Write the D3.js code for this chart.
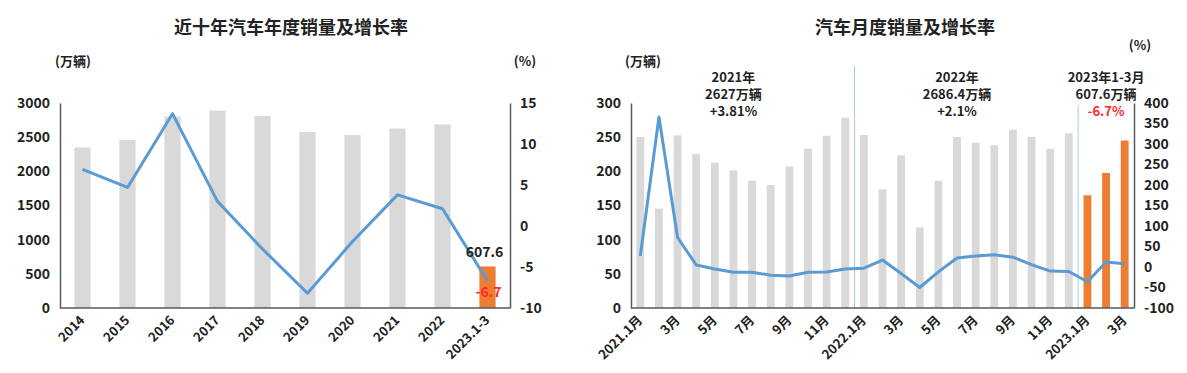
<!DOCTYPE html>
<html>
<head>
<meta charset="utf-8">
<script src="https://cdn.jsdelivr.net/npm/d3@7"></script>
<style>
	body{margin:0;background:#fff;}
	svg text{font-family:"Noto Sans CJK SC","Noto Sans",sans-serif;font-weight:bold;fill:#222;}
</style>
</head>
<body>
<div id="idCharts"></div>
<script>
// annual chart data
var aYears=["2014","2015","2016","2017","2018","2019","2020","2021","2022","2023.1-3"];
var aYearSales=[2349,2460,2803,2888,2808,2577,2531,2627,2686.4,607.6];
var aYearGrowth=[6.9,4.7,13.7,3.0,-2.8,-8.2,-1.9,3.8,2.1,-6.7];
var aYearLeftTicks=[0,500,1000,1500,2000,2500,3000];
var aYearRightTicks=[-10,-5,0,5,10,15];

// monthly chart data
var aMonths=["2021.1月","2月","3月","4月","5月","6月","7月","8月","9月","10月","11月","12月",
	"2022.1月","2月","3月","4月","5月","6月","7月","8月","9月","10月","11月","12月",
	"2023.1月","2月","3月"];
var aMonthSales=[250.3,145.5,252.6,225.2,212.8,201.5,186.4,179.9,207.1,233.2,252.2,278.6,
	253.1,173.7,223.4,118.1,186.2,250.2,242.0,238.3,261.0,250.5,232.9,255.6,
	164.9,197.6,245.1];
var aMonthGrowth=[27,366,72,5,-5,-13,-13,-20,-22,-13,-12,-5,
	-3,17,-16,-50,-12,22,27,30,24,6,-10,-11,
	-36,12,8];
var aMonthLeftTicks=[0,50,100,150,200,250,300];
var aMonthRightTicks=[-100,-50,0,50,100,150,200,250,300,350,400];
var aNotes=[
	{iAt:5,lines:["2021年","2627万辆","+3.81%"]},
	{iAt:17,lines:["2022年","2686.4万辆","+2.1%"]},
	{iAt:25,lines:["2023年1-3月","607.6万辆","-6.7%"]}
];

var sGray="#d9d9d9", sOrange="#ed7d31", sBlue="#5b9bd5", sAxis="#595959", sRed="#ff2a2a";

var myCanvas=d3.select("#idCharts").append("svg")
	.attr("width",1187)
	.attr("height",373);

function fDrawChart(oCfg)
{
	var myG=myCanvas.append("g");
	var iTop=103, iBottom=308;

	var xBand=d3.scaleBand()
		.domain(d3.range(oCfg.aCats.length))
		.range([oCfg.iLeft,oCfg.iRight])
		.paddingInner(oCfg.fPad)
		.paddingOuter(oCfg.fPad/2);
	var yLeft=d3.scaleLinear().domain(oCfg.aLeftDom).range([iBottom,iTop]);
	var yRight=d3.scaleLinear().domain(oCfg.aRightDom).range([iBottom,iTop]);

	myG.append("text")
		.attr("x",oCfg.iTitleX).attr("y",34)
		.attr("text-anchor","middle")
		.style("font-size","18px")
		.text(oCfg.sTitle);

	// separators
	(oCfg.aSeps||[]).forEach(function(oSep){
		var iX=xBand(oSep.i)-xBand.step()*xBand.paddingInner()/2;
		myG.append("line")
			.attr("x1",iX).attr("x2",iX)
			.attr("y1",oSep.y).attr("y2",iBottom)
			.attr("stroke","#a9c8e8").attr("stroke-width",1);
	});

	myG.selectAll(".bar")
		.data(oCfg.aSales)
		.enter().append("rect")
			.attr("class","bar")
			.attr("x",function(d,i){return xBand(i);})
			.attr("y",function(d){return yLeft(d);})
			.attr("width",xBand.bandwidth())
			.attr("height",function(d){return iBottom-yLeft(d);})
			.attr("fill",function(d,i){return i>=oCfg.iOrangeFrom ? sOrange : sGray;});

	var fLine=d3.line()
		.x(function(d,i){return xBand(i)+xBand.bandwidth()/2;})
		.y(function(d){return yRight(d);});

	myG.append("path")
		.datum(oCfg.aGrowth)
		.attr("d",fLine)
		.attr("fill","none")
		.attr("stroke",sBlue)
		.attr("stroke-width",3)
		.attr("stroke-linejoin","round");

	// axes
	var fPlain=function(d){return String(d);};
	var axL=d3.axisLeft(yLeft).tickValues(oCfg.aLeftTicks).tickFormat(fPlain).tickSize(0).tickPadding(10);
	var axR=d3.axisRight(yRight).tickValues(oCfg.aRightTicks).tickFormat(fPlain).tickSize(0).tickPadding(10);
	var gL=myG.append("g").attr("transform","translate("+oCfg.iLeft+",0)").call(axL);
	var gR=myG.append("g").attr("transform","translate("+oCfg.iRight+",0)").call(axR);
	[gL,gR].forEach(function(g){
		g.select(".domain").attr("stroke",sAxis).attr("stroke-width",1.5);
		g.selectAll("text").style("font-size","14px").attr("fill","#222");
	});
	myG.append("line")
		.attr("x1",oCfg.iLeft).attr("x2",oCfg.iRight)
		.attr("y1",iBottom).attr("y2",iBottom)
		.attr("stroke",sAxis).attr("stroke-width",1.5);

	var aLabels=oCfg.aCats
		.map(function(s,i){return {s:s,i:i};})
		.filter(function(o){return oCfg.fShow(o.i);});

	myG.selectAll(".xlab")
		.data(aLabels)
		.enter().append("text")
			.attr("class","xlab")
			.attr("text-anchor","end")
			.attr("transform",function(o){
				return "translate("+(xBand(o.i)+xBand.bandwidth()/2+3)+","+(iBottom+13)+") rotate(-45)";})
			.style("font-size","13px")
			.text(function(o){return o.s;});

	myG.append("text")
		.attr("x",oCfg.iUnitX).attr("y",66)
		.attr("text-anchor","middle")
		.style("font-size","13px")
		.text("(万辆)");
	myG.append("text")
		.attr("x",oCfg.iPctX).attr("y",oCfg.iPctY)
		.attr("text-anchor","middle")
		.style("font-size","13px")
		.text("(%)");

	return {x:xBand,yL:yLeft,yR:yRight,g:myG};
}

var oYear=fDrawChart({
	sTitle:"近十年汽车年度销量及增长率",iTitleX:291,
	aCats:aYears,aSales:aYearSales,aGrowth:aYearGrowth,
	iLeft:60,iRight:510,fPad:0.64,
	aLeftDom:[0,3000],aRightDom:[-10,15],
	aLeftTicks:aYearLeftTicks,aRightTicks:aYearRightTicks,
	iOrangeFrom:9,
	fShow:function(i){return true;},
	iUnitX:73,iPctX:525,iPctY:66
});

var iLast=aYears.length-1;
oYear.g.append("text")
	.attr("x",oYear.x(iLast)+oYear.x.bandwidth()/2-3)
	.attr("y",oYear.yL(aYearSales[iLast])-9)
	.attr("text-anchor","middle")
	.style("font-size","14px")
	.text(aYearSales[iLast]);
oYear.g.append("text")
	.attr("x",oYear.x(iLast)+oYear.x.bandwidth()/2+1)
	.attr("y",oYear.yR(aYearGrowth[iLast])+16)
	.attr("text-anchor","middle")
	.style("font-size","14px")
	.style("fill",sRed)
	.text(aYearGrowth[iLast]);

var oMonth=fDrawChart({
	sTitle:"汽车月度销量及增长率",iTitleX:905,
	aCats:aMonths,aSales:aMonthSales,aGrowth:aMonthGrowth,
	iLeft:631,iRight:1134,fPad:0.58,
	aLeftDom:[0,300],aRightDom:[-100,400],
	aLeftTicks:aMonthLeftTicks,aRightTicks:aMonthRightTicks,
	iOrangeFrom:24,
	aSeps:[{i:12,y:66},{i:24,y:105}],
	fShow:function(i){return i%2==0;},
	iUnitX:643,iPctX:1140,iPctY:50
});

aNotes.forEach(function(oNote,k){
	var iX=oMonth.x(oNote.iAt)+oMonth.x.bandwidth()/2;
	oNote.lines.forEach(function(s,j){
		oMonth.g.append("text")
			.attr("x",iX).attr("y",82+j*17)
			.attr("text-anchor","middle")
			.style("font-size","13px")
			.style("fill",(k==2&&j==2)?sRed:"#222")
			.text(s);
	});
});
</script>
</body>
</html>
